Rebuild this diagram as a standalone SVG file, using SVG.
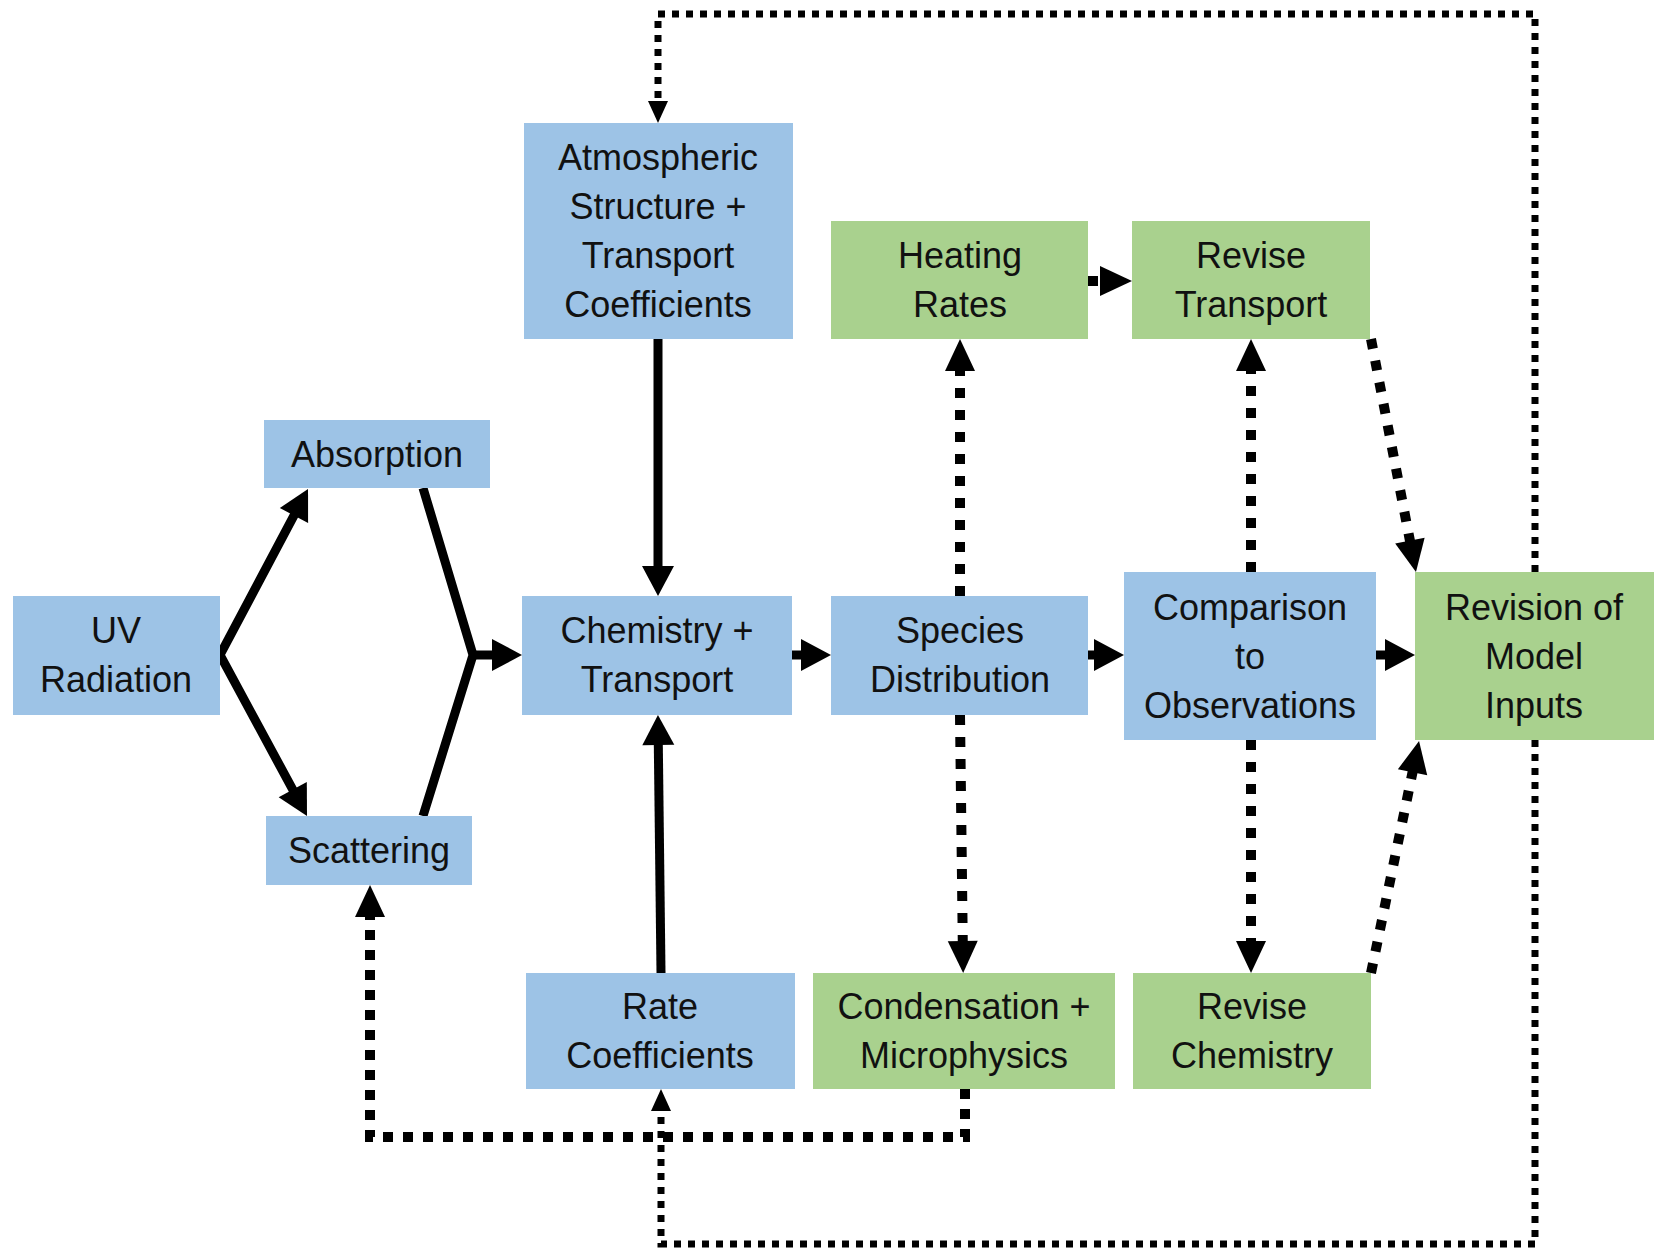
<svg xmlns="http://www.w3.org/2000/svg" width="1660" height="1250" viewBox="0 0 1660 1250">
<style>
.blue{fill:#9DC3E6}
.green{fill:#A9D18E}
text{font-family:"Liberation Sans",Arial,sans-serif;font-size:36px;fill:#111;text-anchor:middle}
.solid{fill:none;stroke:#000;stroke-width:9}
.dash{fill:none;stroke:#000;stroke-width:10;stroke-dasharray:10 12}
.dash2{fill:none;stroke:#000;stroke-width:10;stroke-dasharray:10 10}
.dot{fill:none;stroke:#000;stroke-width:7;stroke-dasharray:7 7}
</style>
<defs>
<marker id="aS" markerUnits="userSpaceOnUse" markerWidth="30" markerHeight="32" refX="18" refY="16" orient="auto-start-reverse" overflow="visible"><path d="M0,0 L30,16 L0,32 z" fill="#000"/></marker>
<marker id="aD" markerUnits="userSpaceOnUse" markerWidth="32" markerHeight="30" refX="20" refY="15" orient="auto" overflow="visible"><path d="M0,0 L32,15 L0,30 z" fill="#000"/></marker>
<marker id="aT" markerUnits="userSpaceOnUse" markerWidth="22" markerHeight="20" refX="12" refY="10" orient="auto" overflow="visible"><path d="M0,0 L22,10 L0,20 z" fill="#000"/></marker>
</defs>

<g id="connectors">
<path class="solid" d="M302.4,499.6 L220,655 L301.3,805.4" marker-start="url(#aS)" marker-end="url(#aS)"/>
<path class="solid" d="M423,488 L473,655 L423,816"/>
<path class="solid" d="M470,655 L510,655" marker-end="url(#aS)"/>
<path class="solid" d="M658,339 L658,584" marker-end="url(#aS)"/>
<path class="solid" d="M661,973 L658.1,727" marker-end="url(#aS)"/>
<path class="solid" d="M792,655 L819,655" marker-end="url(#aS)"/>
<path class="solid" d="M1088,655 L1112,655" marker-end="url(#aS)"/>
<path class="solid" d="M1376,655 L1403,655" marker-end="url(#aS)"/>
<path class="dash" d="M1088,281 L1120,281" marker-end="url(#aD)"/>
<path class="dash" d="M960,596 L960,351" marker-end="url(#aD)"/>
<path class="dash" d="M960,715 L963,961" marker-end="url(#aD)"/>
<path class="dash" d="M1251,572 L1251,351" marker-end="url(#aD)"/>
<path class="dash" d="M1251,740 L1251,961" marker-end="url(#aD)"/>
<path class="dash" d="M1371,339 L1413.7,560.2" marker-end="url(#aD)"/>
<path class="dash" d="M1371,973 L1416.6,752.7" marker-end="url(#aD)"/>
<path class="dash2" d="M965,1089 L965,1137 L370,1137 L370,897" marker-end="url(#aD)"/>
<path class="dot" d="M1535,740 L1535,1244 L661,1244 L661,1099" marker-end="url(#aT)"/>
<path class="dot" d="M1535,572 L1535,14 L658,14 L658,113" marker-end="url(#aT)"/>
</g>

<g id="uv"><rect class="blue" x="13" y="596" width="207" height="119"/><text x="116" y="643">UV</text><text x="116" y="692">Radiation</text></g>
<g id="absorption"><rect class="blue" x="264" y="420" width="226" height="68"/><text x="377" y="467">Absorption</text></g>
<g id="scattering"><rect class="blue" x="266" y="816" width="206" height="69"/><text x="369" y="863">Scattering</text></g>
<g id="atmospheric"><rect class="blue" x="524" y="123" width="269" height="216"/><text x="658" y="170">Atmospheric</text><text x="658" y="219">Structure +</text><text x="658" y="268">Transport</text><text x="658" y="317">Coefficients</text></g>
<g id="chemistry"><rect class="blue" x="522" y="596" width="270" height="119"/><text x="657" y="643">Chemistry +</text><text x="657" y="692">Transport</text></g>
<g id="rate"><rect class="blue" x="526" y="973" width="269" height="116"/><text x="660" y="1019">Rate</text><text x="660" y="1068">Coefficients</text></g>
<g id="heating"><rect class="green" x="831" y="221" width="257" height="118"/><text x="960" y="268">Heating</text><text x="960" y="317">Rates</text></g>
<g id="revise-transport"><rect class="green" x="1132" y="221" width="238" height="118"/><text x="1251" y="268">Revise</text><text x="1251" y="317">Transport</text></g>
<g id="species"><rect class="blue" x="831" y="596" width="257" height="119"/><text x="960" y="643">Species</text><text x="960" y="692">Distribution</text></g>
<g id="comparison"><rect class="blue" x="1124" y="572" width="252" height="168"/><text x="1250" y="620">Comparison</text><text x="1250" y="669">to</text><text x="1250" y="718">Observations</text></g>
<g id="revision"><rect class="green" x="1415" y="572" width="239" height="168"/><text x="1534" y="620">Revision of</text><text x="1534" y="669">Model</text><text x="1534" y="718">Inputs</text></g>
<g id="condensation"><rect class="green" x="813" y="973" width="302" height="116"/><text x="964" y="1019">Condensation +</text><text x="964" y="1068">Microphysics</text></g>
<g id="revise-chemistry"><rect class="green" x="1133" y="973" width="238" height="116"/><text x="1252" y="1019">Revise</text><text x="1252" y="1068">Chemistry</text></g>
</svg>
